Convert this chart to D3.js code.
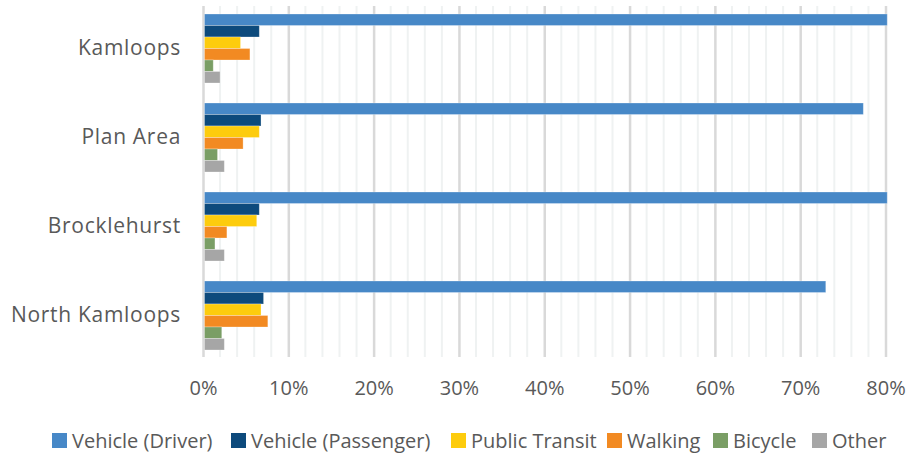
<!DOCTYPE html>
<html>
<head>
<meta charset="utf-8">
<script src="https://cdn.jsdelivr.net/npm/d3@7"></script>
<style>
    body { margin: 0; background: #fff; }
    text { font-family: "Open Sans", sans-serif; fill: #595959; }
</style>
</head>
<body>
<div id="chart"></div>
<script>
// Chart data
var categories = ["Kamloops", "Plan Area", "Brocklehurst", "North Kamloops"];
var seriesNames = ["Vehicle (Driver)", "Vehicle (Passenger)", "Public Transit", "Walking", "Bicycle", "Other"];
var driver    = [80.2, 77.4, 80.2, 73.0];
var passenger = [6.6, 6.8, 6.6, 7.1];
var transit   = [4.4, 6.6, 6.3, 6.8];
var walking   = [5.5, 4.7, 2.8, 7.6];
var bicycle   = [1.2, 1.7, 1.4, 2.2];
var other     = [2.0, 2.5, 2.5, 2.5];
var tickValues = [0, 10, 20, 30, 40, 50, 60, 70, 80];

var colors = ["#4788c7", "#0d4a7c", "#fdcc0d", "#f28a22", "#7a9e65", "#a6a6a6"];
var allSeries = [driver, passenger, transit, walking, bicycle, other];

var w = 909, h = 454;
// plot area (note: "top" is reserved on window, so use plotTop)
var plotLeft = 203, plotRight = 885.5, plotTop = 4, plotBottom = 360;

var svg = d3.select("#chart").append("svg")
    .attr("width", w)
    .attr("height", h);

var xScale = d3.scaleLinear().domain([0, 80]).range([plotLeft, plotRight]);

var yScale = d3.scaleBand()
    .domain(categories)
    .range([plotTop, plotBottom])
    .paddingInner(20 / 89)
    .paddingOuter(10 / 89);

var sScale = d3.scaleBand()
    .domain(seriesNames)
    .range([0, yScale.bandwidth()]);

var gridTop = plotTop + 2, gridBottom = plotBottom - 3;

// minor gridlines every 2%
var minor = d3.range(2, 81, 2).filter(function (d) { return d % 10 !== 0; });
svg.append("g").selectAll("line")
    .data(minor)
    .enter().append("line")
    .attr("x1", function (d) { return xScale(d); })
    .attr("x2", function (d) { return xScale(d); })
    .attr("y1", gridTop)
    .attr("y2", gridBottom)
    .attr("stroke", "#eff2f2")
    .attr("stroke-width", 2);

// major gridlines + x axis labels
var xAxis = d3.axisBottom(xScale)
    .tickValues(tickValues)
    .tickSize(-(gridBottom - gridTop))
    .tickPadding(24)
    .tickFormat(function (d) { return d + "%"; });

var gx = svg.append("g")
    .attr("transform", "translate(0," + gridBottom + ")")
    .call(xAxis);
gx.select(".domain").remove();
gx.selectAll(".tick line").attr("stroke", "#d9d9d9").attr("stroke-width", 2.5);
gx.selectAll(".tick text")
    .style("font-size", "20px")
    .attr("fill", "#595959");

// bars
categories.forEach(function (cat, ci) {
    var g = svg.append("g").attr("transform", "translate(0," + yScale(cat) + ")");
    g.selectAll("rect")
        .data(seriesNames)
        .enter().append("rect")
        .attr("x", xScale(0) + 1.5)
        .attr("y", function (s) { return sScale(s); })
        .attr("width", function (s, si) { return Math.max(0, xScale(allSeries[si][ci]) - xScale(0) - 1.5); })
        .attr("height", sScale.bandwidth())
        .attr("fill", function (s, si) { return colors[si]; })
        .attr("stroke", "#ffffff")
        .attr("stroke-opacity", 0.35)
        .attr("stroke-width", 0.8);
});

// category labels
svg.append("g").selectAll("text")
    .data(categories)
    .enter().append("text")
    .attr("x", 181)
    .attr("y", function (d) { return yScale(d) + yScale.bandwidth() / 2 + 1; })
    .attr("text-anchor", "end")
    .attr("dominant-baseline", "middle")
    .style("font-size", "21px")
    .style("letter-spacing", "0.7px")
    .text(function (d) { return d; });

// legend
var legendX = [52, 231, 451, 607, 713, 812];
var legend = svg.append("g").selectAll("g")
    .data(seriesNames)
    .enter().append("g")
    .attr("transform", function (d, i) { return "translate(" + legendX[i] + ",433)"; });
legend.append("rect")
    .attr("width", 15)
    .attr("height", 15)
    .attr("fill", function (d, i) { return colors[i]; });
legend.append("text")
    .attr("x", 20)
    .attr("y", 15)
    .style("font-size", "20px")
    .text(function (d) { return d; });
</script>
</body>
</html>
